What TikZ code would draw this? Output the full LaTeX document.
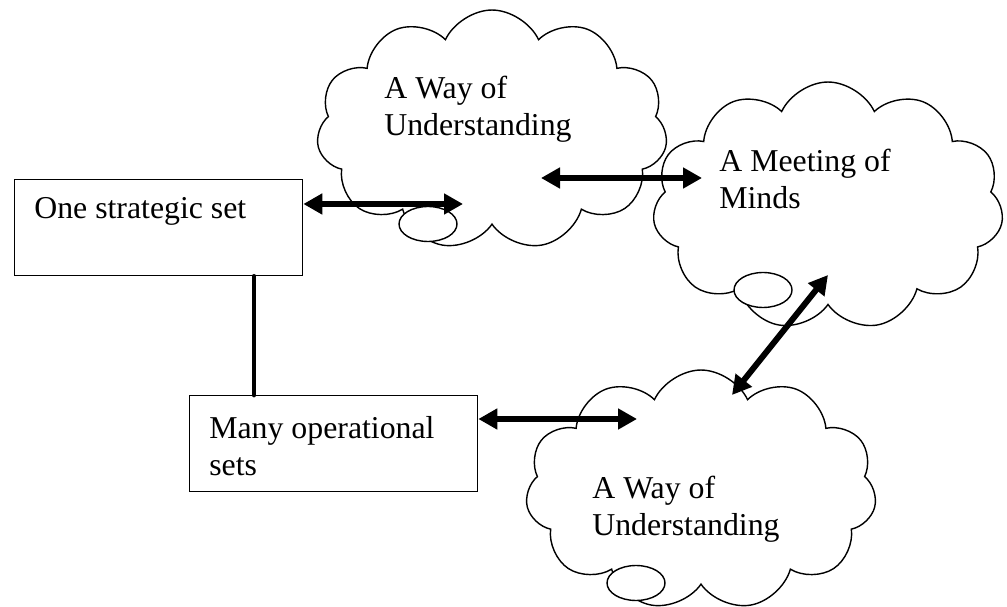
\documentclass[tikz,border=0pt]{standalone}
\usepackage		 {fontspec}
\setmainfont{Liberation Serif}
\usetikzlibrary{shapes,shapes.symbols,calc,positioning}
\usetikzlibrary	 {arrows.meta}

\begin{document}
\begin{tikzpicture}[x=0.02cm,y=-0.02cm]
  \tikzset{set box/.style={draw,line width=0.8pt,minimum width=5.76cm,minimum height=1.92cm,anchor=north west},
           idea cloud/.style={draw,cloud,cloud puffs=11,cloud puff arc=130,fill=white,line width=0.8pt,minimum width=7.02cm,minimum height=#1},
           puff/.style={draw,ellipse,fill=white,line width=0.8pt,minimum width=1.16cm,minimum height=0.7cm},
           words/.style={anchor=north west,inner sep=0,align=left,font=\fontsize{18.1}{21}\selectfont},
           both ways/.style={{Triangle[length=0.38cm,width=0.4cm]}-{Triangle[length=0.38cm,width=0.4cm]},line width=3.4pt}}
  \useasboundingbox (0,0) rectangle (1007,607);
  % clouds
  \node [idea cloud=4.8cm]  (wayA)  at (492,130) {};
  \node [idea cloud=4.96cm] (minds) at (828,206) {};
  \node [idea cloud=4.8cm]  (wayB)  at (701,490) {};
  \node [puff] (wayA puff)  at (428,224) {};
  \node [puff] (minds puff) at (763,290) {};
  \node [puff] (wayB puff)  at (636,583) {};
  % boxes
  \node [set box] (strat) at (14,179) {};
  \node [set box] (ops)   at (189,395) {};
  \node [words] (strat text) at (34,197) {One strategic set};
  \node [words] (ops text)   at (209,416) {Many operational\\sets};
  \node [words] (wayA text)  at (384,76) {A Way of\\Understanding};
  \node [words] (minds text) at (719,149) {A Meeting of\\Minds};
  \node [words] (wayB text)  at (592,476) {A Way of\\Understanding};
  % links
  \coordinate (wayA in)  at (463,204);
  \coordinate (wayA out) at (541,178);
  \coordinate (minds in) at (702,178);
  \coordinate (minds low) at (828,275);
  \coordinate (wayB in)  at (637,419);
  \coordinate (wayB top) at (732,395);
  \coordinate (drop) at (254,300);
  \draw [line width=2.8pt,line cap=round] (strat.south -| drop) -- (ops.north -| drop);
  \draw [both ways] (strat.east |- wayA in) -- (wayA in);
  \draw [both ways] (wayA out) -- (minds in);
  \draw [both ways] (ops.east |- wayB in) -- (wayB in);
  \draw [both ways] (wayB top) -- (minds low);
\end{tikzpicture}
\end{document}
